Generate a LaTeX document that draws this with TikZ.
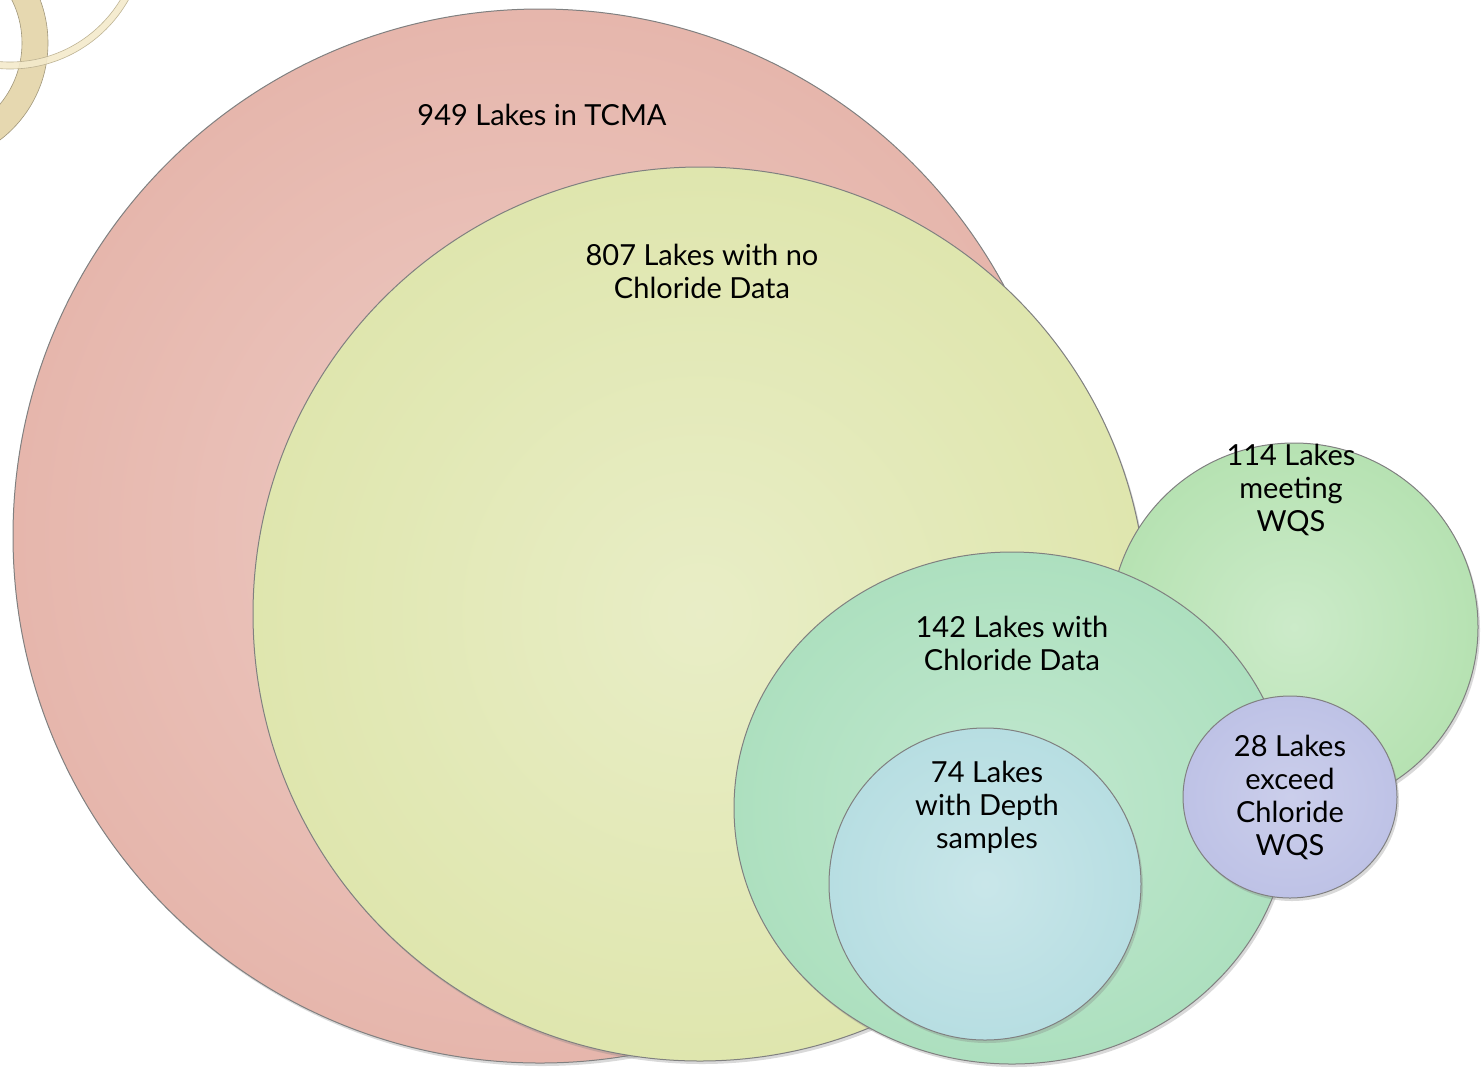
\documentclass[tikz,border=0pt]{standalone}
\usepackage{fontspec}
\setmainfont{Lato}
\usetikzlibrary{shadows}

\definecolor{ringtan}{HTML}{E6D8B0}
\definecolor{ringcream}{HTML}{F4EACB}
\definecolor{tcmared}{HTML}{E6B6AC}
\definecolor{nodatayellow}{HTML}{DFE6AE}
\definecolor{meetgreen}{HTML}{B6E2B2}
\definecolor{datagreen}{HTML}{ADE0BF}
\definecolor{depthblue}{HTML}{B7DEE2}
\definecolor{exceedpurple}{HTML}{BEC2E6}

\begin{document}
\begin{tikzpicture}[x=0.5pt, y=-0.5pt,
    lakeset/.style = {draw=black!50, line width=0.5pt,
        drop shadow={shadow xshift=1pt, shadow yshift=-1.5pt, opacity=0.3}},
    tag/.style = {align=center, inner sep=0pt, font=\fontsize{14.5}{16.5}\selectfont}]
    \useasboundingbox (0,0) rectangle (1482,1067);
    \clip (0,0) rectangle (1482,1067);
    % rings in the corner
    \path[fill=ringtan, draw=ringtan!70!black, line width=0.3pt, even odd rule] (-74,43) circle (122) circle (96);
    \path[fill=ringcream, draw=ringtan!80!black, line width=0.3pt, even odd rule, opacity=0.9] (10,-67) circle (136) circle (129);
    % sets of lakes
    \path[lakeset, inner color=tcmared!70!white, outer color=tcmared] (540,536) circle (527);
    \path[lakeset, inner color=nodatayellow!70!white, outer color=nodatayellow] (700,614) circle (447);
    \path[lakeset, inner color=meetgreen!70!white, outer color=meetgreen] (1294,627) circle (184);
    \path[lakeset, inner color=datagreen!75!white, outer color=datagreen] (1012,808) ellipse [x radius=278, y radius=256];
    \path[lakeset, inner color=depthblue!75!white, outer color=depthblue] (985,884) circle (156);
    \path[lakeset, inner color=exceedpurple!80!white, outer color=exceedpurple] (1290,797) ellipse [x radius=107, y radius=101];
    % labels
    \node[tag] (tcma) at (542,115) {949 Lakes in TCMA};
    \node[tag] (nodata) at (702,271) {807 Lakes with no\\Chloride Data};
    \node[tag] (meeting) at (1291,490) {114 Lakes\\meeting\\WQS};
    \node[tag] (withdata) at (1012,643) {142 Lakes with\\Chloride Data};
    \node[tag] (depth) at (987,807) {74 Lakes\\with Depth\\samples};
    \node[tag] (exceed) at (1290,797) {28 Lakes\\exceed\\Chloride\\WQS};
\end{tikzpicture}
\end{document}
